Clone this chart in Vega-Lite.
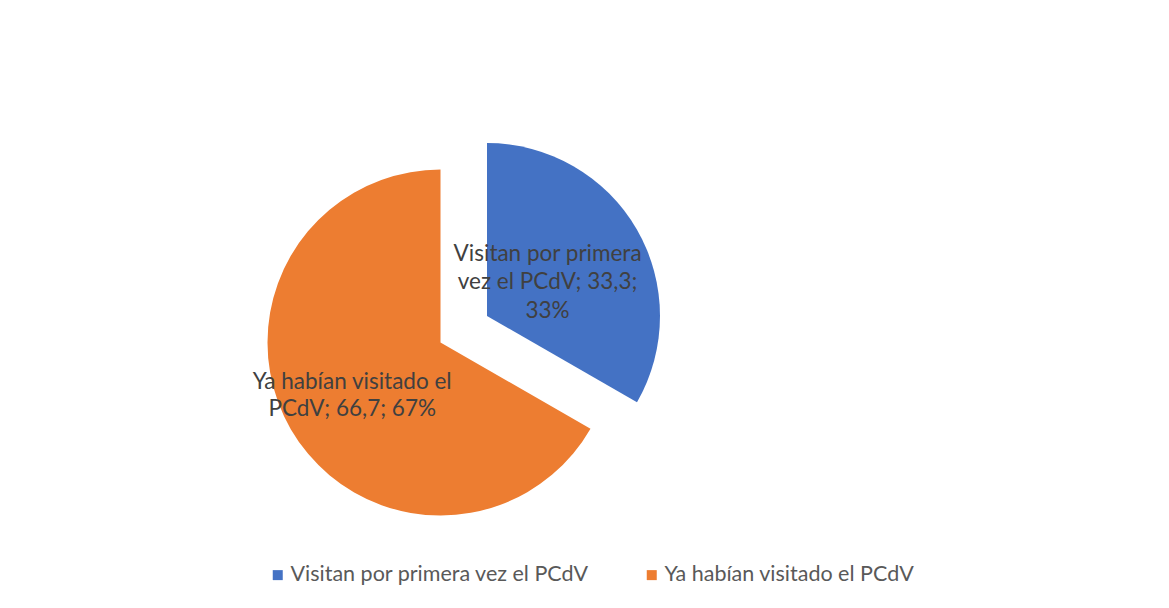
{
  "$schema": "https://vega.github.io/schema/vega-lite/v6.json",
  "width": 1167,
  "height": 607,
  "padding": {"left": 2, "top": 1, "right": 0, "bottom": 0},
  "autosize": {"type": "none"},
  "background": "white",
  "config": {"view": {"stroke": "#d9d9d9", "strokeWidth": 1}, "font": "Lato"},
  "data": {
    "values": [
      {"cat": "Visitan por primera vez el PCdV", "value": 33.3, "label": "Visitan por primera\nvez el PCdV; 33,3;\n33%"},
      {"cat": "Ya habían visitado el PCdV", "value": 66.7, "label": "Ya habían visitado el\nPCdV; 66,7; 67%"}
    ]
  },
  "encoding": {
    "theta": {"field": "value", "type": "quantitative", "stack": true},
    "order": {"field": "cat", "sort": "ascending"},
    "color": {
      "field": "cat",
      "type": "nominal",
      "scale": {"domain": ["Visitan por primera vez el PCdV", "Ya habían visitado el PCdV"], "range": ["#4472C4", "#ED7D31"]},
      "legend": {
        "orient": "none",
        "legendX": 265,
        "legendY": 563,
        "direction": "horizontal",
        "title": null,
        "symbolType": "square",
        "symbolSize": 100,
        "symbolStrokeWidth": 0,
        "labelFontSize": 21.5,
        "labelFont": "Lato",
        "labelColor": "#595959",
        "labelLimit": 500,
        "columnPadding": 52,
        "labelOffset": 2
      }
    }
  },
  "layer": [
    {
      "mark": {"type": "arc", "radius": 173, "xOffset": -145, "yOffset": 38},
      "encoding": {"fillOpacity": {"condition": {"test": "datum.cat === 'Ya habían visitado el PCdV'", "value": 1}, "value": 0}}
    },
    {
      "mark": {"type": "arc", "radius": 173, "xOffset": -98.5, "yOffset": 11.5},
      "encoding": {"fillOpacity": {"condition": {"test": "datum.cat === 'Visitan por primera vez el PCdV'", "value": 1}, "value": 0}}
    },
    {
      "mark": {"type": "text", "radius": 70, "xOffset": -98.5, "yOffset": 11.5, "dy": -27, "fontSize": 22.5, "lineHeight": 28.5, "lineBreak": "\n", "align": "center", "baseline": "middle"},
      "encoding": {
        "text": {"field": "label"},
        "color": {"value": "#404040"},
        "opacity": {"condition": {"test": "datum.cat === 'Visitan por primera vez el PCdV'", "value": 1}, "value": 0}
      }
    },
    {
      "mark": {"type": "text", "radius": 102, "xOffset": -145, "yOffset": 38, "dy": -12, "fontSize": 22.5, "lineHeight": 27, "lineBreak": "\n", "align": "center", "baseline": "middle"},
      "encoding": {
        "text": {"field": "label"},
        "color": {"value": "#404040"},
        "opacity": {"condition": {"test": "datum.cat === 'Ya habían visitado el PCdV'", "value": 1}, "value": 0}
      }
    }
  ]
}
